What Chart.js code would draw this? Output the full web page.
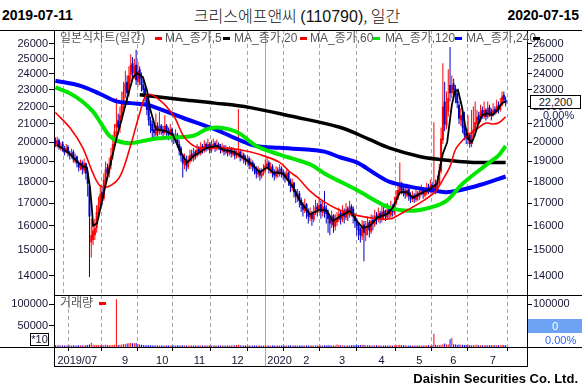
<!DOCTYPE html>
<html>
<head>
<meta charset="utf-8">
<script src="https://cdn.jsdelivr.net/npm/chart.js@4.4.1/dist/chart.umd.min.js"></script>
<style>
  body { margin: 0; width: 582px; height: 391px; position: relative; overflow: hidden; background: #fff;
         font-family: "Liberation Sans", Arial, sans-serif; }
  .a { position: absolute; white-space: nowrap; }
  canvas { position: absolute; left: 0; }
  .ln { position: absolute; background: #000; }
  .leg { position: absolute; font-size: 12px; line-height: 14px; color: #555; white-space: nowrap;
         font-family: "Liberation Sans", "Noto Sans CJK KR", sans-serif; }
  .mk { position: absolute; width: 7px; height: 3px; }
</style>
</head>
<body>
<div class="a" style="left:2px;top:7px;font-weight:bold;font-size:14px;line-height:16px;">2019-07-11</div>
<div class="a" style="left:6px;width:582px;top:5px;text-align:center;font-size:16px;line-height:20px;font-weight:300;color:#111;font-family:'Noto Sans CJK KR',sans-serif;">크리스에프앤씨 <b style="font-family:'Liberation Sans'">(110790)</b>, 일간</div>
<div class="a" style="right:3px;top:7px;font-weight:bold;font-size:14px;line-height:16px;">2020-07-15</div>

<canvas id="price" width="582" height="265" style="top:30px"></canvas>
<canvas id="vol" width="582" height="71" style="top:295px"></canvas>

<div class="ln" style="left:0;top:30px;width:582px;height:1px"></div>
<div class="ln" style="left:54px;top:295px;width:528px;height:1px"></div>
<div class="ln" style="left:0;top:347px;width:582px;height:1px"></div>
<div class="ln" style="left:54px;top:366px;width:474px;height:1px"></div>
<div class="ln" style="left:54px;top:347px;width:1px;height:20px"></div>
<div class="ln" style="left:527px;top:347px;width:1px;height:20px"></div>

<!-- legend, price panel -->
<div class="leg" style="left:60px;top:31px">일본식차트(일간)</div>
<div class="mk" style="left:155px;top:37px;background:#ff0000"></div>
<div class="leg" style="left:165px;top:31px">MA_종가,5</div>
<div class="mk" style="left:223px;top:37px;background:#000"></div>
<div class="leg" style="left:234px;top:31px">MA_종가,20</div>
<div class="mk" style="left:300px;top:37px;background:#ff0000"></div>
<div class="leg" style="left:310px;top:31px">MA_종가,60</div>
<div class="mk" style="left:373px;top:37px;background:#00e600"></div>
<div class="leg" style="left:385px;top:31px">MA_종가,120</div>
<div class="mk" style="left:455px;top:37px;background:#0000ff"></div>
<div class="leg" style="left:466px;top:31px">MA_종가,240</div>
<div class="mk" style="left:533px;top:37px;background:#000"></div>

<!-- legend, volume panel -->
<div class="leg" style="left:60px;top:296px">거래량</div>
<div class="mk" style="left:99px;top:302px;background:#ff0000"></div>

<!-- right side boxes -->
<div class="a" style="left:530px;top:95px;width:49px;height:12px;border:1px solid #000;background:#fff;font-size:11px;line-height:12px;text-align:center;color:#141432">22,200</div>
<div class="a" style="left:543px;top:109px;font-size:11px;line-height:13px;color:#1a1a60">0.00%</div>
<div class="a" style="left:528px;top:319px;width:54px;height:14px;background:#6ea2f2;color:#fff;font-size:11px;line-height:14px;text-align:center">0</div>
<div class="a" style="left:545px;top:334px;font-size:11px;line-height:13px;color:#3366ee">0.00%</div>
<div class="a" style="left:30px;top:333px;width:17px;height:11px;border:1px solid #000;font-size:11px;line-height:11px;text-align:center;color:#141432">*10</div>

<div class="a" style="right:4px;top:371px;font-weight:bold;font-size:13px;line-height:16px;">Daishin Securities Co. Ltd.</div>

<script>
// month starts (trading-day index) and axis labels
const tickIdx = [0, 15, 36, 55, 76, 97, 117, 137, 157, 179, 200, 219, 241];
const tickLabels = ['2019/07', '', '9', '10', '11', '12', '2020', '2', '3', '4', '5', '6', '7'];
const yearIdx = 117;
const priceTicks = [14000, 15000, 16000, 17000, 18000, 19000, 20000, 21000, 22000, 23000, 24000, 25000, 26000];
const volTicksL = [50000, 100000];
const volTicksR = [100000];

// daily candles, 2019-07-11 .. 2020-07-15
const opens = [
  20100,19800,20100,19700,19900,19650,19450,19750,19400,19250, 19500,19000,19250,18900,18650,18950,18550,18900,18400,17800,
  15300,15400,15600,15900,16500,16900,17500,17200,18100,18700, 18400,18800,19300,19800,20800,21200,20800,21400,22100,22900,
  23500,22800,23900,24700,24000,24600,23500,24300,23800,23300, 23100,22500,21900,21200,21000,20700,20400,20900,20500,20900,
  20700,20500,20900,20600,20400,20700,20300,20100,20400,19900, 19700,19300,18800,19100,18700,19000,19400,19100,19500,19300,
  19700,19400,19800,19550,19900,19650,19900,19550,19800,19950, 19650,19900,19800,19550,19750,19450,19650,19400,19650,19350,
  19550,19250,19350,19500,19150,19350,19150,18950,19150,18750, 18950,18750,18650,18350,18550,18250,18400,18550,18750,18950,
  18550,18750,18450,18250,18550,18350,18650,18450,18350,18150, 18450,18050,17700,17950,17550,17200,17450,17150,16950,16650,
  16950,16650,16350,16550,16250,16550,16850,16650,16950,16550, 16850,16750,16550,16350,16050,16450,15950,16150,16250,16550,
  16250,16650,16350,16750,16450,16850,16750,16450,16250,16050, 15850,15550,16050,15600,15850,16150,15750,16250,16050,16450,
  16250,16550,16250,16650,16550,16350,16750,16450,16850,16550, 17000,17250,17550,17850,17650,17550,17350,17650,17350,17150,
  17350,17150,17450,17250,17450,17650,17350,17450,17750,17550, 17850,17500,17900,17600,17900,18500,20100,22300,20900,21700,
  23300,22800,23400,23100,22800,22100,21200,21500,20900,20500, 20100,20400,19900,20250,20600,21000,21500,21200,21800,21400,
  21800,21400,21950,21700,21500,21850,21700,22100,21800,22100, 22700,22400
];
const highs = [
  20250,20300,20200,20000,20050,19800,19900,19850,19550,19650, 19600,19400,19300,19050,19100,19050,19150,18950,18500,17900,
  16300,16200,16300,16900,17300,17800,17700,18400,19000,18900, 19200,19700,20400,21000,22500,21600,22000,22900,23500,24200,
  23900,24500,25300,25100,25000,25600,24800,24500,24100,23600, 23300,22700,22000,21400,21200,21000,21600,21100,21700,21000,
  20900,21500,21000,20800,21000,20800,20500,20700,20500,20100, 19800,19400,19400,19300,19300,19600,19600,19700,19600,19900,
  19800,20000,19900,20100,20000,20200,20000,20100,20200,20050, 20150,20000,19900,19950,19850,19850,19750,19800,19750,19750,
  19650,19650,21850,19650,19550,19450,19300,19350,19250,19150, 19050,18900,18750,18750,18650,18650,18850,19100,19200,19050,
  18950,18850,18600,18750,18700,18850,18750,18600,18500,18650, 18500,18150,18150,18000,17650,17650,17550,17250,17050,17200,
  17000,16750,16800,16650,16900,17150,17000,17300,17100,17100, 17550,16900,16700,16450,16650,16500,16500,16600,16800,16650,
  16900,16750,17000,16850,17100,16950,16850,16550,16350,16150, 15950,16250,16200,16200,16400,16250,16500,16450,16700,16600,
  16800,16650,16900,16850,16700,17000,16850,17100,16950,17300, 17600,17900,18950,18000,17850,17750,17900,17750,17500,17550,
  17450,17650,17550,17750,17850,17750,17750,17950,17900,18100, 18000,21100,18100,18300,18900,20800,24700,23500,22900,24300,
  25800,23900,23700,23300,23000,22300,21900,21700,21700,20700, 21500,20500,21800,22000,22300,21800,21700,22100,22000,22300,
  21900,22300,22100,21900,22200,22000,22400,22300,22500,22900, 22900,22600
];
const lows = [
  19750,19700,19600,19550,19500,19300,19400,19250,19100,19150, 18950,18900,18700,18500,18550,18350,18400,18100,17300,13950,
  14700,15200,15400,15700,16300,16700,16900,17100,17900,18100, 18200,18600,19100,19600,20300,20400,20500,21200,21800,22500,
  22300,22600,23500,23700,23700,23300,23200,23300,22900,22600, 22100,21500,20900,20500,20200,20100,20300,20300,20400,20400,
  20200,20400,20300,20100,20300,20000,19900,20000,19700,19300, 19000,18200,18600,18500,18600,18900,19000,19000,19100,19200,
  19300,19300,19400,19450,19500,19550,19400,19450,19650,19500, 19550,19600,19400,19450,19300,19350,19250,19300,19200,19250,
  19100,19150,19200,19000,19050,18900,18800,18850,18600,18600, 18500,18350,18150,18200,18050,18150,18300,18450,18600,18400,
  18400,18200,18050,18150,18200,18250,18200,18100,17950,18050, 17800,17500,17550,17250,17000,17050,16800,16600,16400,16550,
  16300,16100,16200,16000,16150,16450,16400,16550,16300,16400, 16350,16100,15700,15600,15900,15700,15800,16000,16150,16050,
  16150,16100,16250,16200,16350,16400,16100,15900,15600,15400, 15300,15400,14550,15350,15600,15500,15650,15800,15950,16050,
  16150,16100,16150,16250,16200,16250,16300,16350,16400,16450, 16900,17150,17400,17400,17300,17200,17250,17100,17000,17050,
  17000,17050,17100,17150,17350,17200,17250,17350,17400,17450, 17500,17400,17400,17500,17800,18400,19900,20600,20700,21400,
  22300,22500,22600,22200,21900,21000,20900,20500,20100,19900, 19900,19700,19750,20100,20500,20900,21000,21100,21300,21300,
  21200,21300,21400,21200,21400,21500,21600,21600,21700,22000, 22200,22000
];
const closes = [
  19900,20100,19750,19800,19650,19500,19700,19400,19300,19450, 19100,19200,18900,18700,18900,18600,18900,18400,17900,16400,
  15600,15800,15900,16600,16900,17400,17200,18100,18600,18400, 18800,19300,19900,20600,21000,20800,21500,22200,22900,23400,
  22800,23900,24600,24100,24500,23600,24200,23700,23300,23000, 22500,21800,21200,20900,20600,20500,20900,20600,20800,20700,
  20500,20900,20600,20400,20700,20300,20200,20400,19900,19600, 19300,18900,19100,18800,19000,19300,19200,19400,19300,19600,
  19500,19700,19600,19800,19700,19900,19600,19800,19900,19700, 19850,19800,19600,19700,19500,19600,19450,19600,19400,19500,
  19300,19400,19500,19200,19300,19100,19000,19100,18800,18900, 18700,18600,18400,18500,18300,18400,18600,18800,18900,18600,
  18700,18400,18300,18500,18400,18600,18400,18300,18200,18400, 18000,17800,17900,17500,17300,17400,17100,16900,16700,16900,
  16600,16400,16500,16300,16600,16800,16700,16900,16600,16800, 16700,16500,16300,16100,16400,16000,16200,16300,16500,16300,
  16600,16400,16700,16500,16800,16700,16400,16200,16000,15800, 15600,16000,15700,15900,16100,15800,16200,16100,16400,16300,
  16500,16300,16600,16500,16400,16700,16500,16800,16600,17000, 17300,17600,17800,17600,17500,17400,17600,17300,17200,17300,
  17200,17400,17300,17500,17600,17400,17500,17700,17600,17800, 17700,17800,17600,17900,18500,20200,22000,21000,21700,22500,
  22800,23300,23000,22700,22200,21300,21500,20800,20400,20200, 20500,19900,20300,20700,21100,21400,21200,21700,21500,21800,
  21400,21900,21600,21500,21800,21700,22000,21800,22100,22600, 22400,22200
];
// volume (x10 shares)
const volumes = [
  3800,3500,4000,3600,3400,3500,3700,3400,3300,3600,3800,3500,3600,3900,3500,
  3800,3600,4000,4600,6000, 10000,
  5000,4500,4200,4000,4500,4000,4200,5500,3800,4000,4400,4600,5000, 111000,
  4500,5000,6000,7000,6500,8000,9000,9500,8500,9000,9500,7000,6000,5000,4500,4200,
  4000,3800,4200,3600,3500,3800,3400,3600,3300,3500,3700,3400,3200,3500,3300,3400,3600,3800,3500,3700,4200,3600,3400,3500,3300,
  3400,3200,3500,3300,3600,3400,3200,3300,3500,3400,3200,3300,3400,3500,3300,3200,3400,3300,3500,3200,3300,3400,3600,3500,3800,
  4500,5000,3800,3500,3400,3300,3500,3200,3400,3300,3500,3600,3400,3300,3200,3500,3400,3300,3600,3400,3300,3200,3500,3400,3300,
  3200,3400,3300,3500,3600,3800,3500,3400,3600,3300,3500,3700,3400,3600,3500,3300,3400,3600,3500,3400,3300,3500,3400,3600,3800,
  3500,4000,3800,3600,3500,3700,6000,4500,3800,3600,3500,3400,3600,3500,3800,4000,4200,4500,4000,4400,5000,4800,4200,4000,3800,
  3700,3600,3500,3800,3600,3500,3400,3600,3500,3400,3300,3500,3700,3600,4000,4400,5500,4000,3800,3600,3500,3700,3400,3500,3600,
  3500,3400,3600,3500,3700,3400,3600,3800,3500,3700, 31000,
  5000,4000,4500,5500,6500,8000,6000,6000,18000,21000,6500,6000,5500,6000,5000,5500,4500,4500,5000,4500,
  4000,4500,4200,5000,4000,4200,3800,4000,4200,4000,3800,4000,4500,4000,4200,3800,4000,5500,4500,4000
];

// moving averages: [trading-day index, value]
const ma5 = [[0.9,19850],[8,19400],[12,19000],[15.4,18750],[17.6,18700],[19.3,17700],[20.4,16700],[21,16000],[23.2,16100],
  [24.9,16700],[27.6,17700],[30.4,18750],[34.3,20300],[37.1,21300],[39.9,22450],[43.3,23800],[45.5,24050],[48.8,23800],
  [51.1,22950],[52.7,21900],[56,20700],[61.7,20600],[65.5,20400],[69.4,19550],[73.3,18950],[76.7,19250],[84.5,19700],
  [90.1,19800],[93.4,19600],[99,19500],[102.9,19300],[108.5,18950],[114,18450],[117.9,18700],[121.3,18450],[126.9,18400],
  [132.4,17750],[136.3,17100],[141.9,16500],[147.5,16700],[151.4,16650],[154.7,16200],[158.6,16400],[164.2,16650],
  [168.1,16200],[171.5,15900],[175.4,16000],[179.3,16350],[184.8,16500],[188.2,16800],[192.1,17500],[196,17500],
  [199.3,17250],[204.9,17500],[208.8,17650],[212.7,17900],[216,19400],[218.4,20000],[221,22100],[222.7,22900],
  [224.4,23000],[226.6,22000],[228.3,21000],[230,20200],[232.2,20000],[233.9,20400],[235.6,20950],[237.8,21500],
  [240.6,21600],[243.4,21500],[246.1,21750],[248.9,22200],[251,22300]];
const ma20 = [[0,21650],[8,20800],[15,19750],[21,18400],[25,17800],[30,17780],[36,18250],[42,19850],[47,21600],[51,22700],
  [58,22400],[66,21450],[71,20400],[75,19950],[80,19700],[93,19700],[103,19600],[114,19350],[125,18950],[131,18450],
  [135,18200],[142,17550],[149,17100],[158,16700],[168,16450],[180,16300],[187,16300],[192,16500],[205,17100],[212,17550],
  [216,18100],[220,18750],[223,19600],[227,20100],[231,20450],[236,20800],[240,21050],[244,21000],[247,21050],[251,21400]];
const ma60 = [[0,23150],[8,22800],[15,22300],[21,21700],[25,21100],[30,20350],[35,20050],[42,19950],[53,20150],[63,20250],
  [77,20350],[84,20700],[90,20800],[97,20700],[103,20450],[112,19800],[125,19350],[142,18850],[150,18400],[168,17600],
  [186,16800],[198,16650],[209,16800],[218,17100],[227,17900],[242,18950],[247,19300],[251,19800]];
const ma120 = [[0,23570],[14,23250],[25,22750],[34,22300],[42,22200],[51,22100],[53,22050],[71,21350],[89,20700],[103,20100],
  [112,19800],[125,19700],[142,19600],[150,19500],[159,19200],[168,18950],[178,18400],[186,18000],[198,17750],[213,17550],
  [218,17500],[226,17600],[237,17850],[251,18250]];
const ma240 = [[47,22700],[71,22400],[89,22200],[108,21950],[131,21450],[159,20800],[175,20150],[186,19700],[203,19250],
  [214,19100],[233,18950],[251,18950]];

const xMin = -0.78, xMax = 262.9;
const tickFont = { family: 'Liberation Sans', size: 11 };
const txt = '#141432';

const isUp = closes.map((c, i) => c >= opens[i]);
const candleCol = isUp.map(u => u ? '#ff0000' : '#0000c8');
const volCol = isUp.map(u => u ? '#ff0000' : '#0000ff');
const pts = arr => arr.map(([x, y]) => ({ x, y }));
const gridCol = c => (c.tick && c.tick.value === 0) ? 'rgba(0,0,0,0)' : '#a4a4a4';
const tickCol = c => (c.tick && c.tick.value === 0) ? 'rgba(0,0,0,0)' : '#000';
const setTicks = list => s => { s.ticks = list.map(v => ({ value: v })); };
const fixW = w => s => { s.width = w; s.paddingTop = 0; s.paddingBottom = 0; };

// solid line at the year change
const yearLine = {
  id: 'yearLine',
  beforeDatasetsDraw(chart) {
    const { ctx, chartArea } = chart;
    const x = Math.round(chart.scales.x.getPixelForValue(yearIdx)) + 0.5;
    ctx.save();
    ctx.strokeStyle = '#a8a8a8';
    ctx.lineWidth = 1;
    ctx.beginPath();
    ctx.moveTo(x, chartArea.top);
    ctx.lineTo(x, chart.canvas.id === 'vol' ? chart.height : chartArea.bottom);
    ctx.stroke();
    ctx.restore();
  }
};

function priceAxis(pos, w) {
  return {
    type: 'logarithmic', position: pos, min: 13297, max: 26990,
    afterBuildTicks: setTicks(priceTicks), afterFit: fixW(w),
    ticks: { callback: v => String(v), font: tickFont, color: txt, padding: 1, autoSkip: false },
    grid: { drawOnChartArea: false, tickLength: 5, tickColor: '#000' },
    border: { color: '#000' }
  };
}
function line(data, color, width, order, tension) {
  return { type: 'line', data: pts(data), borderColor: color, borderWidth: width, pointRadius: 0,
           tension: tension, order: order, yAxisID: 'y' };
}

new Chart(document.getElementById('price'), {
  type: 'bar',
  data: {
    datasets: [
      line(ma5, '#000000', 1.8, 1, 0),
      line(ma20, '#ff0000', 1.6, 2, 0.35),
      line(ma60, '#00e600', 4, 3, 0.35),
      line(ma120, '#0000ff', 4, 4, 0.35),
      line(ma240, '#000000', 3.5, 5, 0.35),
      { type: 'bar', data: opens.map((o, i) => ({ x: i, y: [o, closes[i]] })), backgroundColor: candleCol,
        barThickness: 2, grouped: false, inflateAmount: 0, order: 6, yAxisID: 'y' },
      { type: 'bar', data: lows.map((l, i) => ({ x: i, y: [l, highs[i]] })), backgroundColor: candleCol,
        barThickness: 1, grouped: false, inflateAmount: 0, order: 7, yAxisID: 'y' }
    ]
  },
  options: {
    responsive: false, animation: false, devicePixelRatio: 1,
    layout: { padding: 0 },
    plugins: { legend: { display: false }, tooltip: { enabled: false } },
    scales: {
      x: {
        type: 'linear', min: xMin, max: xMax, offset: false,
        afterBuildTicks: setTicks(tickIdx.slice(1)),
        afterFit: s => { s.height = 0; s.paddingLeft = 0; s.paddingRight = 0; },
        ticks: { display: false },
        grid: { color: gridCol, drawTicks: false },
        border: { display: false, dash: [4, 3] }
      },
      y: priceAxis('left', 54),
      y2: priceAxis('right', 55)
    }
  },
  plugins: [yearLine]
});

function volAxis(pos, w, list) {
  return {
    type: 'linear', position: pos, min: 0, max: 121000,
    afterBuildTicks: setTicks(list), afterFit: fixW(w),
    ticks: { callback: v => String(v), font: tickFont, color: txt, padding: 1, autoSkip: false },
    grid: { drawOnChartArea: false, tickLength: 5, tickColor: '#000' },
    border: { color: '#000' }
  };
}

new Chart(document.getElementById('vol'), {
  type: 'bar',
  data: {
    datasets: [{
      data: volumes.map((v, i) => ({ x: i, y: v })), backgroundColor: volCol,
      barThickness: 1, grouped: false, inflateAmount: 0, yAxisID: 'y'
    }]
  },
  options: {
    responsive: false, animation: false, devicePixelRatio: 1,
    layout: { padding: 0 },
    plugins: { legend: { display: false }, tooltip: { enabled: false } },
    scales: {
      x: {
        type: 'linear', min: xMin, max: xMax, offset: false,
        afterBuildTicks: setTicks(tickIdx),
        afterFit: s => { s.height = 19; s.paddingLeft = 0; s.paddingRight = 0; },
        ticks: { callback: v => tickLabels[tickIdx.indexOf(v)], align: 'start', labelOffset: 2, padding: 3,
                 font: tickFont, color: txt, autoSkip: false, maxRotation: 0 },
        grid: { color: gridCol, tickLength: 4, tickColor: tickCol },
        border: { color: '#000', dash: [4, 3] }
      },
      y: volAxis('left', 54, volTicksL),
      y2: volAxis('right', 55, volTicksR)
    }
  },
  plugins: [yearLine]
});
</script>
</body>
</html>
